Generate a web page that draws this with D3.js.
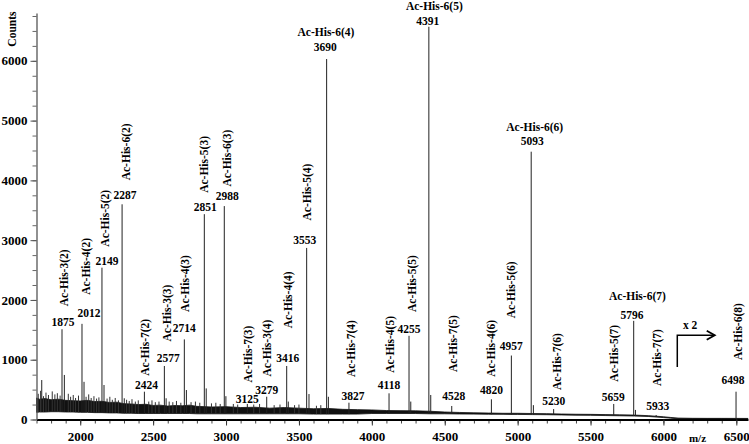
<!DOCTYPE html>
<html>
<head>
<meta charset="utf-8">
<script src="https://cdn.jsdelivr.net/npm/d3@7"></script>
<style>
  body { margin: 0; background: #fff; }
  text { font-family: "Liberation Serif", "Times New Roman", serif; font-weight: bold; fill: #000; }
</style>
</head>
<body>
<svg id="chart" width="749" height="444"></svg>
<script>
// labelled peaks (observed m/z, counts) and their annotations
const peakMz = [1875, 2012, 2149, 2287, 2440, 2577, 2714, 2851, 2988, 3146, 3279, 3416, 3553, 3690,
  3843, 4118, 4255, 4391, 4548, 4820, 4957, 5093, 5247, 5659, 5796, 5950, 6498];
const peakCounts = [1510, 1600, 2540, 3600, 465, 895, 1340, 3435, 3570, 260, 381, 895, 2870, 6030,
  281, 438, 1400, 6570, 226, 338, 1070, 4480, 175, 260, 1650, 75, 465];
const peakMass = ["1875", "2012", "2149", "2287", "2424", "2577", "2714", "2851", "2988", "3125", "3279",
  "3416", "3553", "3690", "3827", "4118", "4255", "4391", "4528", "4820", "4957", "5093", "5230",
  "5659", "5796", "5933", "6498"];
const peakName = ["Ac-His-3(2)", "Ac-His-4(2)", "Ac-His-5(2)", "Ac-His-6(2)", "Ac-His-7(2)",
  "Ac-His-3(3)", "Ac-His-4(3)", "Ac-His-5(3)", "Ac-His-6(3)", "Ac-His-7(3)", "Ac-His-3(4)",
  "Ac-His-4(4)", "Ac-His-5(4)", "Ac-His-6(4)", "Ac-His-7(4)", "Ac-His-4(5)", "Ac-His-5(5)",
  "Ac-His-6(5)", "Ac-His-7(5)", "Ac-His-4(6)", "Ac-His-5(6)", "Ac-His-6(6)", "Ac-His-7(6)",
  "Ac-His-5(7)", "Ac-His-6(7)", "Ac-His-7(7)", "Ac-His-6(8)"];

// smaller unlabelled side peaks
const satMz = [1736, 1891, 2026, 2163, 2302, 2589, 2728, 2864, 2999, 3427, 3569, 3702, 4267, 4404, 5108, 5808];
const satCounts = [660, 745, 630, 577, 355, 355, 493, 520, 390, 300, 426, 380, 300, 410, 240, 160];

// noise spikes on the baseline
const spikeMz = [1712, 1728, 1748, 1765, 1782, 1808, 1826, 1843, 1862, 1918, 1934, 1952, 1968, 1988,
  2040, 2058, 2075, 2094, 2112, 2128, 2184, 2203, 2220, 2240, 2262, 2318, 2336, 2355, 2378, 2398,
  2470, 2492, 2515, 2540, 2610, 2635, 2660, 2690, 2760, 2790, 2820, 2900, 2930, 2960, 3050, 3080,
  3190, 3230, 3330, 3370, 3470, 3500, 3620, 3650];
const spikeCounts = [430, 480, 390, 450, 410, 470, 420, 440, 400, 430, 380, 410, 360, 400, 380, 420,
  360, 390, 350, 370, 350, 380, 330, 360, 320, 330, 310, 340, 300, 320, 300, 320, 290, 300, 300, 290,
  310, 280, 290, 300, 280, 270, 280, 260, 260, 250, 250, 260, 240, 250, 240, 250, 230, 240];

// baseline noise band (lower / upper edge, counts)
const noiseMz = [1700, 1720, 1760, 1800, 1850, 1900, 1950, 2000, 2050, 2100, 2150, 2200, 2250, 2300,
  2350, 2400, 2450, 2500, 2550, 2600, 2650, 2700, 2750, 2800, 2900, 3000, 3100, 3200, 3300, 3400,
  3500, 3600, 3700, 3800, 3900, 4000, 4100, 4200, 4300, 4400, 4500, 4600, 4700, 4800, 4900, 5000,
  5100, 5200, 5300, 5400, 5500, 5600, 5700, 5800, 5900, 6000, 6050, 6100, 6200, 6300, 6400, 6580];
const noiseLo = [120, 125, 125, 130, 130, 125, 125, 120, 120, 115, 115, 110, 110, 105, 105, 100, 100,
  100, 100, 100, 100, 100, 100, 95, 95, 95, 95, 95, 95, 95, 95, 90, 90, 90, 90, 100, 100, 100, 100,
  95, 95, 92, 90, 88, 86, 85, 82, 80, 76, 72, 70, 66, 62, 58, 50, 32, 22, 12, 10, 10, 10, 10];
const noiseHi = [360, 340, 350, 330, 340, 320, 315, 310, 320, 300, 305, 285, 290, 265, 260, 250, 255,
  235, 240, 225, 235, 230, 240, 220, 210, 215, 200, 205, 190, 200, 190, 180, 185, 170, 165, 160, 150,
  148, 145, 138, 125, 118, 112, 108, 104, 104, 100, 98, 92, 88, 86, 82, 78, 74, 64, 46, 34, 24, 20,
  19, 19, 18];

const yMajor = [0, 1000, 2000, 3000, 4000, 5000, 6000];
const xMajor = [2000, 2500, 3000, 3500, 4000, 4500, 5000, 5500, 6000, 6500];

// annotation layout (px): number dx / gap above peak, name dx / gap above number, rotated?
const labelLayout = [
  [1, 3, 1.5, 20, true], [7, 7, 4, 22, true], [5, 3, 3, 18, true], [3, 5, 4, 19, true],
  [2, 3, 1, 13, true], [4, 3.5, 3, 21, true], [0, 7.5, 1, 20, true], [1, 3.3, 0, 18, true],
  [3, 6, 3, 13.5, true], [0, 1, 1, 20.5, true], [0, 2.7, 0, 17.5, true], [1, 3.7, 1, 34, true],
  [-2, 4.4, 0, 23, true], [-1.5, 7.6, -0.7, 15, false], [4, 2.7, 2, 23, true], [0, 4, 1, 16.5, true],
  [0, 3.3, 3, 20.5, true], [-1, 1.7, 5.5, 15, false], [2, 6, 1, 28, true], [0, 5, 0, 17.5, true],
  [0, 5.3, 0, 32, true], [1, 6.7, 3.5, 14.3, false], [0, 4, 3, 15, true], [-0.5, 3.3, 0, 19, true],
  [-1.6, 1.7, 3.7, 19, false], [1.5, 5, 1, 24, true], [-3, 7.7, 2, 24, true]
];

const svg = d3.select("#chart");
const x = d3.scaleLinear().domain([1700, 6580]).range([36.5, 748]);
const y = d3.scaleLinear().domain([0, 6800]).range([419.5, 13]);
const baseAt = d3.scaleLinear().domain(noiseMz).range(noiseLo);
const fmt = d3.format("d");

// noise band
const band = noiseMz.map((m, i) => ({ m: m, lo: noiseLo[i], hi: noiseHi[i] }));
svg.append("path")
  .datum(band)
  .attr("d", d3.area().x(d => x(d.m)).y0(d => y(d.lo)).y1(d => y(d.hi)))
  .attr("fill", "#111")
  .attr("stroke", "#111")
  .attr("stroke-width", 0.8);

function spikes(mzs, counts, color) {
  svg.append("g").selectAll("line")
    .data(mzs)
    .join("line")
    .attr("x1", d => x(d)).attr("x2", d => x(d))
    .attr("y1", d => y(baseAt(d)))
    .attr("y2", (d, i) => y(counts[i]))
    .attr("stroke", color)
    .attr("stroke-width", 1);
}
spikes(spikeMz, spikeCounts, "#333");
spikes(satMz, satCounts, "#222");

// main peaks
const peaks = peakMz.map((m, i) => ({ m: m, c: peakCounts[i], mass: peakMass[i], name: peakName[i], lay: labelLayout[i] }));
svg.append("g").selectAll("line")
  .data(peaks)
  .join("line")
  .attr("x1", d => x(d.m)).attr("x2", d => x(d.m))
  .attr("y1", d => y(baseAt(d.m)))
  .attr("y2", d => y(d.c))
  .attr("stroke", "#222")
  .attr("stroke-width", 1);

// x axis
const xAxisG = svg.append("g").attr("transform", "translate(0," + y(0) + ")");
xAxisG.append("g")
  .call(d3.axisBottom(x).tickValues(d3.range(1700, 6580, 100)).tickSize(4).tickFormat(""))
  .call(g => g.select(".domain").remove())
  .call(g => g.selectAll("line").attr("stroke", "#444"));
xAxisG.append("g")
  .call(d3.axisBottom(x).tickValues(xMajor).tickSize(6).tickSizeOuter(0).tickFormat(fmt))
  .call(g => g.select(".domain").attr("stroke", "#000").attr("stroke-width", 2))
  .call(g => g.selectAll("line").attr("stroke", "#333"))
  .call(g => g.selectAll("text").attr("y", 21.5).attr("dy", 0)
    .style("font-size", "13px").style("font-family", "'Liberation Serif', serif").style("font-weight", "bold"));

// y axis
const yAxisG = svg.append("g").attr("transform", "translate(" + x(1700) + ",0)");
yAxisG.append("g")
  .call(d3.axisLeft(y).tickValues(d3.range(0, 6800, 250)).tickSize(4).tickFormat(""))
  .call(g => g.select(".domain").remove())
  .call(g => g.selectAll("line").attr("stroke", "#666"));
yAxisG.append("g")
  .call(d3.axisLeft(y).tickValues(yMajor).tickSize(6).tickPadding(3).tickSizeOuter(0).tickFormat(fmt))
  .call(g => g.select(".domain").attr("stroke", "#555").attr("stroke-width", 1.3))
  .call(g => g.selectAll("line").attr("stroke", "#555"))
  .call(g => g.selectAll("text")
    .style("font-size", "13px").style("font-family", "'Liberation Serif', serif").style("font-weight", "bold"));

// axis titles
svg.append("text")
  .attr("transform", "translate(12,11.5) rotate(-90)")
  .attr("text-anchor", "end")
  .attr("dy", "0.35em")
  .style("font-size", "11.5px")
  .text("Counts");
svg.append("text")
  .attr("x", 697.5).attr("y", 442)
  .attr("text-anchor", "middle")
  .style("font-size", "11px")
  .text("m/z");

// peak annotations
const ann = svg.append("g").style("font-size", "11.5px");
ann.selectAll("text.mass")
  .data(peaks)
  .join("text")
  .attr("class", "mass")
  .attr("x", d => x(d.m) + d.lay[0])
  .attr("y", d => y(d.c) - d.lay[1])
  .attr("text-anchor", "middle")
  .text(d => d.mass);
ann.selectAll("text.name")
  .data(peaks)
  .join("text")
  .attr("class", "name")
  .attr("transform", d => {
    const nx = x(d.m) + d.lay[2], ny = y(d.c) - d.lay[1] - d.lay[3];
    return d.lay[4] ? "translate(" + nx + "," + ny + ") rotate(-90)" : "translate(" + nx + "," + ny + ")";
  })
  .attr("text-anchor", d => d.lay[4] ? "start" : "middle")
  .attr("dy", d => d.lay[4] ? "0.35em" : 0)
  .text(d => d.name);

// "x 2" zoom marker
const arrowPts = [[6095, 880], [6095, 1410], [6345, 1410]];
svg.append("path")
  .attr("d", d3.line().x(d => x(d[0])).y(d => y(d[1]))(arrowPts))
  .attr("fill", "none").attr("stroke", "#000").attr("stroke-width", 1.5);
const tip = [x(6345), y(1410)];
svg.append("path")
  .attr("d", "M" + (tip[0] - 7) + "," + (tip[1] - 4.5) + "L" + (tip[0] + 1) + "," + tip[1] + "L" + (tip[0] - 7) + "," + (tip[1] + 4.5))
  .attr("fill", "none").attr("stroke", "#000").attr("stroke-width", 1.8);
svg.append("text")
  .attr("x", x(6183)).attr("y", y(1510))
  .attr("text-anchor", "middle")
  .style("font-size", "11.5px")
  .text("x 2");
</script>
</body>
</html>
